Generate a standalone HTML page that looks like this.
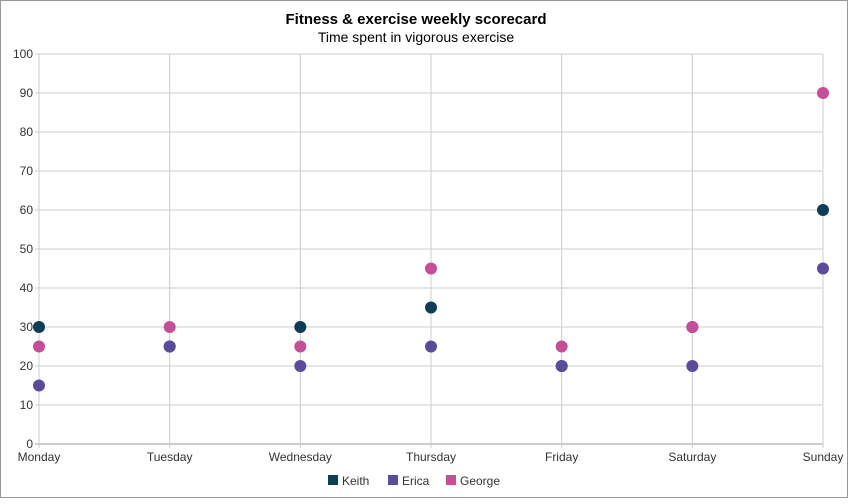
<!DOCTYPE html>
<html><head><meta charset="utf-8"><style>
body{margin:0;background:#fff;font-family:"Liberation Sans",Arial,sans-serif}
svg text{font-family:"Liberation Sans",Arial,sans-serif}
</style></head><body>
<svg id="chart" width="848" height="498" xmlns="http://www.w3.org/2000/svg">
<rect x="0.5" y="0.5" width="847" height="497" fill="#fff" stroke="#999"/>
<text x="416" y="24" text-anchor="middle" font-size="15" font-weight="bold" fill="#000">Fitness &amp; exercise weekly scorecard</text>
<text x="416" y="42" text-anchor="middle" font-size="14" fill="#000">Time spent in vigorous exercise</text>
<g id="grid"></g>
<g id="marks"></g>
<g id="legend"></g>
</svg>
<script>
const categories=["Monday","Tuesday","Wednesday","Thursday","Friday","Saturday","Sunday"];
const keith=[30,25,30,35,20,30,60];
const erica=[15,25,20,25,20,20,45];
const george=[25,30,25,45,25,30,90];
const yTicks=[0,10,20,30,40,50,60,70,80,90,100];
const seriesNames=["Keith","Erica","George"];
const NS="http://www.w3.org/2000/svg";
const L=39,R=823,T=54,B=444;
const xs=i=>L+i*(R-L)/(categories.length-1);
const ys=v=>B-v/100*(B-T);
function mk(tag,attrs,parent){const e=document.createElementNS(NS,tag);for(const k in attrs)e.setAttribute(k,attrs[k]);parent.appendChild(e);return e;}
const grid=document.getElementById('grid'),marks=document.getElementById('marks'),legend=document.getElementById('legend');
yTicks.forEach(v=>{
 const l=mk('line',{x1:L-4,x2:R,y1:ys(v),y2:ys(v),stroke:v===0?'#999':'#ccc','stroke-width':1},grid);
 
 
 const t=mk('text',{x:L-6,y:ys(v)+4,'text-anchor':'end','font-size':12,fill:'#333'},grid);
 t.textContent=v;
 
 
});
categories.forEach((c,i)=>{
 const l=mk('line',{x1:xs(i),x2:xs(i),y1:T,y2:B+4,stroke:'#ccc','stroke-width':1},grid);
 
 
 const t=mk('text',{x:xs(i),y:B+17,'text-anchor':'middle','font-size':12,fill:'#333'},grid);
 t.textContent=c;
 
 
});
const series=[keith,erica,george];
const colors=["#0e3d56","#5b4b9b","#c44f98"];
series.forEach((s,si)=>{
 s.forEach((v,i)=>{
  const p=mk('circle',{cx:xs(i),cy:ys(v),r:6,fill:colors[si]},marks);
  
  
 });
});
const lx=[328,388,446];
seriesNames.forEach((n,i)=>{
 const r=mk('rect',{x:lx[i],y:475,width:10,height:10,fill:colors[i]},legend);
 
 
 const t=mk('text',{x:lx[i]+14,y:485,'font-size':12,fill:'#333'},legend);
 t.textContent=n;
 
 
});
</script>
</body></html>
